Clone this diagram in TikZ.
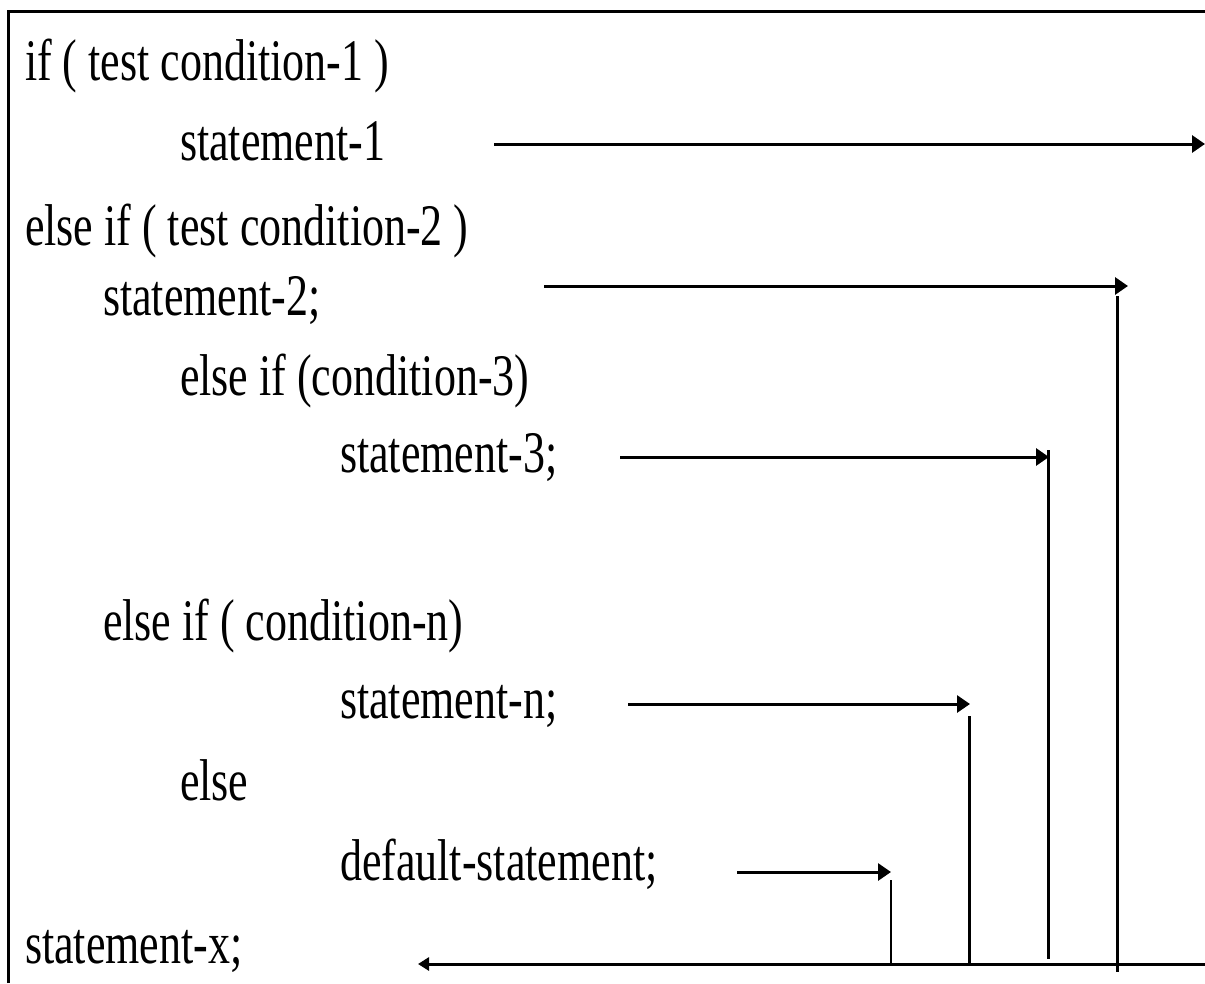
\documentclass[tikz,border=0pt]{standalone}
\usepackage{fontspec}
\setmainfont{Liberation Serif}
\usetikzlibrary{arrows.meta}

% tall, narrow code lettering
\newcommand{\codetext}[1]{\scalebox{1}[1.34]{#1}}

\begin{document}
\begin{tikzpicture}[x=1pt,y=-1pt,
  codeline/.style={anchor=base west,inner sep=0pt,outer sep=0pt,
    font=\fontsize{44}{50}\selectfont},
  flow/.style={line width=3pt},
  thinflow/.style={line width=1.6pt},
  jump/.style={flow,-{Triangle[length=13pt,width=17pt]}},
  back/.style={flow,-{Triangle[length=11pt,width=13pt]}}]
  \useasboundingbox (0,0) rectangle (1205,983);

  % frame (open to the right and below)
  \draw[line width=3pt] (8,983) -- (8,11) -- (1205,11);

  % code lines
  \node[codeline] (c1)  at (25,80)   {\codetext{if ( test condition-1 )}};
  \node[codeline] (s1)  at (180,160) {\codetext{statement-1}};
  \node[codeline] (c2)  at (25,245)  {\codetext{else if ( test condition-2 )}};
  \node[codeline] (s2)  at (103,315) {\codetext{statement-2;}};
  \node[codeline] (c3)  at (180,395) {\codetext{else if (condition-3)}};
  \node[codeline] (s3)  at (340,472) {\codetext{statement-3;}};
  \node[codeline] (cn)  at (103,640) {\codetext{else if ( condition-n)}};
  \node[codeline] (sn)  at (340,718) {\codetext{statement-n;}};
  \node[codeline] (el)  at (180,800) {\codetext{else}};
  \node[codeline] (sd)  at (340,880) {\codetext{default-statement;}};
  \node[codeline] (sx)  at (25,963)  {\codetext{statement-x;}};

  % arrow start and end points
  \coordinate (a1s) at (494,144);  \coordinate (a1e) at (1205,144);
  \coordinate (a2s) at (544,286);  \coordinate (a2e) at (1128,286);
  \coordinate (a3s) at (620,457);  \coordinate (a3e) at (1049,457);
  \coordinate (ans) at (628,704);  \coordinate (ane) at (970,704);
  \coordinate (ads) at (737,872);  \coordinate (ade) at (891,872);

  % vertical drops to the common exit line
  \coordinate (v2t) at (1117,296); \coordinate (v2b) at (1117,972);
  \coordinate (v3t) at (1048,450); \coordinate (v3b) at (1048,959);
  \coordinate (vnt) at (969,716);  \coordinate (vnb) at (969,964);
  \coordinate (vdt) at (891,880);  \coordinate (vdb) at (891,964);

  % exit line back to statement-x
  \coordinate (xr) at (1205,964);  \coordinate (xl) at (418,964);

  \draw[jump] (a1s) -- (a1e);
  \draw[jump] (a2s) -- (a2e);
  \draw[jump] (a3s) -- (a3e);
  \draw[jump] (ans) -- (ane);
  \draw[jump] (ads) -- (ade);

  \draw[flow] (v2t) -- (v2b);
  \draw[flow] (v3t) -- (v3b);
  \draw[flow] (vnt) -- (vnb);
  \draw[thinflow] (vdt) -- (vdb);

  \draw[back] (xr) -- (xl);
\end{tikzpicture}
\end{document}
